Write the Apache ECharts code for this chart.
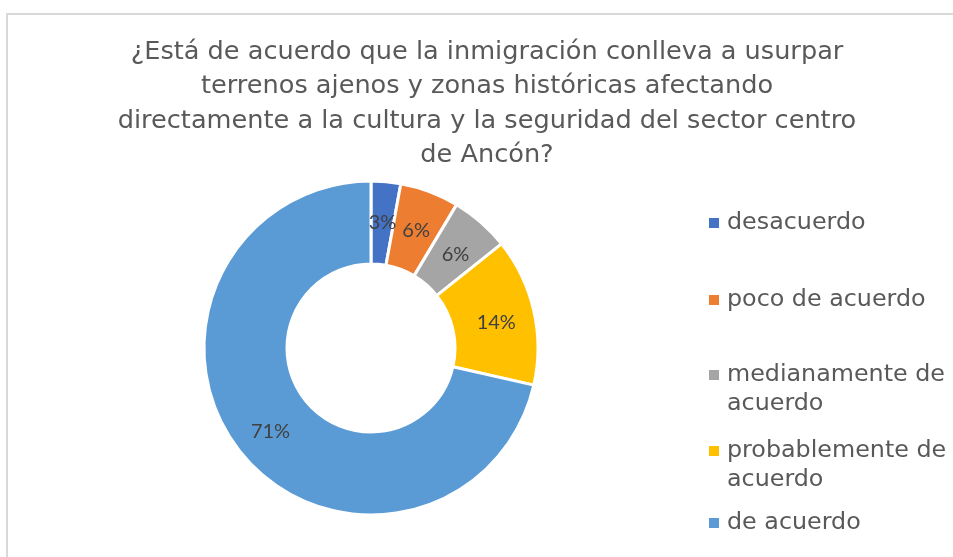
<!DOCTYPE html>
<html>
<head>
<meta charset="utf-8">
<title>Inmigración - Ancón</title>
<script src="https://cdn.jsdelivr.net/npm/echarts@6/dist/echarts.min.js"></script>
<style>
html, body { margin: 0; padding: 0; background: #fff; }
.chart-frame {
    position: absolute;
    left: 6px;
    top: 13px;
    width: 1000px;
    height: 600px;
    border-left: 2px solid #d9d9d9;
    border-top: 2px solid #d9d9d9;
}
#main { position: absolute; left: 0; top: 0; width: 953px; height: 557px; }
</style>
</head>
<body>
<div class="chart-frame"></div>
<div id="main"></div>
<script>
// categorías y respuestas (conteos: 3%, 6%, 6%, 14%, 71%)
var categories = ['desacuerdo', 'poco de acuerdo', 'medianamente de acuerdo', 'probablemente de acuerdo', 'de acuerdo'];
var counts = [1, 2, 2, 5, 25];
var colors = ['#4472C4', '#ED7D31', '#A5A5A5', '#FFC000', '#5B9BD5'];
// como se parte el texto de la leyenda
var legendLines = [['desacuerdo'], ['poco de acuerdo'], ['medianamente de', 'acuerdo'], ['probablemente de', 'acuerdo'], ['de acuerdo']];
var legendTops = [211, 288, 363, 439, 511];

var myChart = echarts.init(document.getElementById('main'));

var legends = categories.map(function (name, i) {
    return {
        data: [name],
        left: 703,
        top: legendTops[i],
        padding: 0,
        itemWidth: 0,
        itemHeight: 0,
        itemStyle: { opacity: 0 },
        selectedMode: false,
        formatter: function () {
            return legendLines[i].map(function (l, j) {
                return (j === 0 ? '{sq|}' : '{sp|}') + '{t|' + l + '}';
            }).join('\n');
        },
        textStyle: {
            rich: {
                sq: { width: 10, height: 10, backgroundColor: colors[i], verticalAlign: 'middle' },
                sp: { width: 10, height: 10 },
                t: {
                    fontFamily: 'DejaVu Sans',
                    fontSize: 23.8,
                    color: '#595959',
                    lineHeight: 29,
                    padding: [0, 0, 0, 8],
                    verticalAlign: 'middle'
                }
            }
        }
    };
});

myChart.setOption({
    animation: false,
    color: colors,
    title: {
        text: '¿Está de acuerdo que la inmigración conlleva a usurpar\nterrenos ajenos y zonas históricas afectando\ndirectamente a la cultura y la seguridad del sector centro\nde Ancón?',
        left: 487,
        top: 35,
        padding: 0,
        textAlign: 'center',
        textStyle: {
            fontFamily: 'DejaVu Sans',
            fontSize: 25.6,
            fontWeight: 'normal',
            color: '#595959',
            lineHeight: 34.5
        }
    },
    legend: legends,
    series: [{
        type: 'pie',
        radius: [84, 167],
        center: [371, 348],
        startAngle: 90,
        clockwise: true,
        percentPrecision: 0,
        avoidLabelOverlap: false,
        itemStyle: { borderColor: '#fff', borderWidth: 3 },
        label: {
            show: true,
            position: 'inside',
            offset: [0, 3],
            formatter: '{d}%',
            fontFamily: 'Lato',
            fontSize: 20,
            color: '#404040'
        },
        labelLine: { show: false },
        emphasis: { scale: false },
        data: categories.map(function (c, i) {
            return { name: c, value: counts[i] };
        })
    }]
});
</script>
</body>
</html>
